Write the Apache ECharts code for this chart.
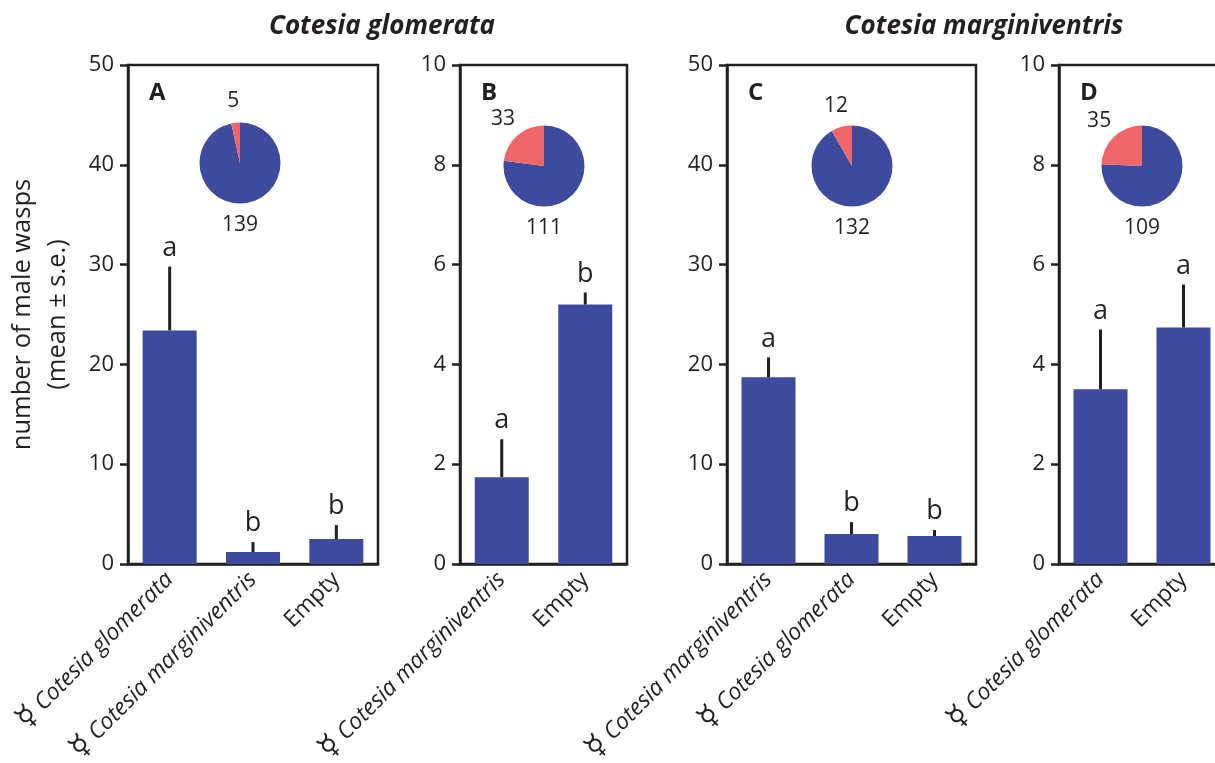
<!DOCTYPE html>
<html><head><meta charset="utf-8">
<script src="https://cdn.jsdelivr.net/npm/echarts@6/dist/echarts.min.js"></script>
<style>html,body{margin:0;padding:0;background:#fff}#c{width:1215px;height:763px}</style>
</head><body><div id="c"></div>
<script>
// ---------- data ----------
const catsA = ['Cotesia glomerata', 'Cotesia marginiventris', 'Empty'];
const meanA = [23.4, 1.2, 2.5];
const seA = [6.4, 1.0, 1.4];
const letA = ['a', 'b', 'b'];

const catsB = ['Cotesia marginiventris', 'Empty'];
const meanB = [1.74, 5.2];
const seB = [0.76, 0.24];
const letB = ['a', 'b'];

const catsC = ['Cotesia marginiventris', 'Cotesia glomerata', 'Empty'];
const meanC = [18.7, 3.0, 2.8];
const seC = [2.0, 1.2, 0.6];
const letC = ['a', 'b', 'b'];

const catsD = ['Cotesia glomerata', 'Empty'];
const meanD = [3.5, 4.74];
const seD = [1.2, 0.86];
const letD = ['a', 'a'];

const pieBlue = [139, 111, 132, 109];
const pieRed = [5, 33, 12, 35];
const panelLetters = ['A', 'B', 'C', 'D'];
const yMax = [50, 10, 50, 10];
const yStep = [10, 2, 10, 2];
const titles = ['Cotesia glomerata', 'Cotesia marginiventris'];

// ---------- layout ----------
const FONT = '"Open Sans", "DejaVu Sans", sans-serif';
const INK = '#231f20';
const BLUE = '#3d4a9e';
const RED = '#ef6668';
const gridsPx = [
  { left: 128, width: 250 },
  { left: 460, width: 167 },
  { left: 727, width: 249 },
  { left: 1059, width: 166 }
];
const GTOP = 65, GBOTTOM = 199;
const pieCenters = [[240, 163], [544, 166], [852, 166], [1142, 166]];
const PIE_R = 40.5;

const panels = [
  { cats: catsA, mean: meanA, se: seA, let: letA },
  { cats: catsB, mean: meanB, se: seB, let: letB },
  { cats: catsC, mean: meanC, se: seC, let: letC },
  { cats: catsD, mean: meanD, se: seD, let: letD }
];

const chart = echarts.init(document.getElementById('c'), null, { renderer: 'canvas' });

const grid = gridsPx.map(g => ({
  left: g.left, width: g.width, top: GTOP, bottom: GBOTTOM,
  containLabel: false, outerBoundsMode: 'none',
  show: true, borderColor: INK, borderWidth: 2.5, backgroundColor: 'transparent'
}));

const xAxis = panels.map((p, i) => ({
  type: 'category', gridIndex: i, data: p.cats,
  axisLine: { lineStyle: { color: INK, width: 2.5 } },
  axisTick: { length: 9, lineStyle: { color: INK, width: 2.5 } },
  axisLabel: {
    rotate: 45, margin: 12, interval: 0, color: INK,
    formatter: v => v === 'Empty' ? '{n|Empty}' : '{s|☿}{n| }{i|' + v + '}',
    rich: {
      n: { fontFamily: FONT, fontSize: 23, color: INK },
      i: { fontFamily: FONT, fontSize: 23, fontStyle: 'italic', color: INK },
      s: { fontFamily: '"DejaVu Sans", sans-serif', fontSize: 30, color: INK }
    }
  }
}));

const yAxis = panels.map((p, i) => ({
  type: 'value', gridIndex: i, min: 0, max: yMax[i], interval: yStep[i],
  splitLine: { show: false },
  axisLine: { show: true, lineStyle: { color: INK, width: 2.5 } },
  axisTick: { show: true, length: 8, lineStyle: { color: INK, width: 2.5 } },
  axisLabel: { fontFamily: FONT, fontSize: 22, color: INK, margin: 14 },
  name: i === 0 ? 'number of male wasps\n(mean ± s.e.)' : '',
  nameLocation: 'middle', nameGap: 53,
  nameTextStyle: { fontFamily: FONT, fontSize: 25.5, lineHeight: 35, color: INK }
}));

const series = [];
panels.forEach((p, i) => {
  series.push({
    type: 'bar', xAxisIndex: i, yAxisIndex: i, data: p.mean,
    barWidth: 54, itemStyle: { color: BLUE }, silent: true
  });
  series.push({
    type: 'custom', xAxisIndex: i, yAxisIndex: i, z: 5, silent: true,
    data: p.mean.map((m, k) => [k, m, m + p.se[k]]),
    renderItem: (params, api) => {
      const x = api.value(0);
      const lo = api.coord([x, api.value(1)]);
      const hi = api.coord([x, api.value(2)]);
      return {
        type: 'group', children: [
          { type: 'line', shape: { x1: lo[0], y1: lo[1], x2: hi[0], y2: hi[1] },
            style: { stroke: INK, lineWidth: 3 } },
          { type: 'text', x: hi[0], y: hi[1] - 5,
            style: { text: p.let[params.dataIndex], fontFamily: FONT, fontSize: 27,
                     fill: INK, align: 'center', verticalAlign: 'bottom' } }
        ]
      };
    }
  });
  series.push({
    type: 'pie', center: pieCenters[i], radius: PIE_R, silent: true,
    startAngle: 90, clockwise: true, label: { show: false }, labelLine: { show: false },
    data: [
      { value: pieBlue[i], itemStyle: { color: BLUE } },
      { value: pieRed[i], itemStyle: { color: RED } }
    ]
  });
});

const graphic = [];
pieCenters.forEach((c, i) => {
  const tot = pieBlue[i] + pieRed[i];
  const th = Math.PI * pieRed[i] / tot;
  graphic.push({ type: 'text', x: c[0] - 62 * Math.sin(th), y: c[1] - 62 * Math.cos(th),
    style: { text: String(pieRed[i]), fontFamily: FONT, fontSize: 21, fill: INK, align: 'center', verticalAlign: 'middle' } });
  graphic.push({ type: 'text', x: c[0], y: c[1] + 62,
    style: { text: String(pieBlue[i]), fontFamily: FONT, fontSize: 21, fill: INK, align: 'center', verticalAlign: 'middle' } });
  graphic.push({ type: 'text', x: gridsPx[i].left + 21, y: 93,
    style: { text: panelLetters[i], fontFamily: FONT, fontSize: 24, fontWeight: 'bold', fill: INK, align: 'left', verticalAlign: 'middle' } });
});

chart.setOption({
  animation: false,
  title: [
    { text: titles[0], left: 377, top: 9, textAlign: 'center',
      textStyle: { fontFamily: FONT, fontSize: 26, fontWeight: 'bold', fontStyle: 'italic', color: INK } },
    { text: titles[1], left: 979, top: 9, textAlign: 'center',
      textStyle: { fontFamily: FONT, fontSize: 26, fontWeight: 'bold', fontStyle: 'italic', color: INK } }
  ],
  grid, xAxis, yAxis, series, graphic
});
</script></body></html>
